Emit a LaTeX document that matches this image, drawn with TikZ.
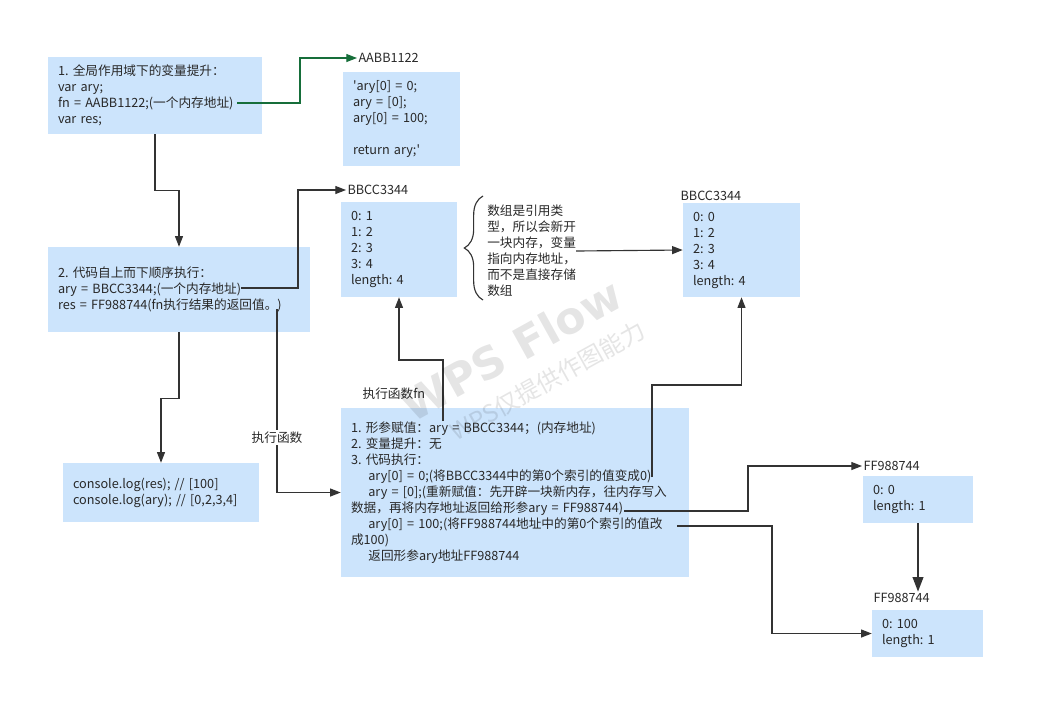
\documentclass[tikz,border=0pt]{standalone}
\usepackage{fontspec}
\setmainfont{Noto Sans CJK SC}
\newfontfamily\wmfont{DejaVu Sans}
\usetikzlibrary{arrows.meta, decorations.pathreplacing, calc}
\definecolor{boxblue}{RGB}{204,228,252}
\definecolor{linegray}{RGB}{51,51,51}
\definecolor{flowgreen}{RGB}{22,110,58}
\definecolor{textgray}{RGB}{40,40,40}
\frenchspacing

\begin{document}
\begin{tikzpicture}[x=0.75pt, y=-0.75pt,
    every node/.style={text=textgray, font=\fontsize{9.5}{12}\selectfont},
    box/.style={fill=boxblue, inner xsep=7.5pt, inner ysep=0pt, align=left},
    addr/.style={anchor=west, inner sep=1pt},
    link/.style={draw=linegray, line width=0.85pt, -{Triangle[length=8pt,width=6pt]}}]

      \useasboundingbox (0,0) rectangle (1045,719);

      % Memory boxes
      \node[box, text width=145.5pt, minimum height=57.75pt] (hoist) at (155,95.5)
        {1. 全局作用域下的变量提升：\\ var ary;\\ fn = AABB1122;(一个内存地址)\\ var res;};
      \node[box, text width=72.75pt, minimum height=70.5pt] (aabbbox) at (401.5,119)
        {\textquotesingle ary[0] = 0;\\ ary = [0];\\ ary[0] = 100;\\[12pt] return ary;\textquotesingle};
      \node[box, text width=181.5pt, minimum height=63.75pt] (exec) at (179,289.5)
        {2. 代码自上而下顺序执行：\\ ary = BBCC3344;(一个内存地址)\\ res = FF988744(fn执行结果的返回值。)};
      \node[box, text width=72pt, minimum height=71.25pt] (bbccbox) at (399,249.5)
        {0: 1\\ 1: 2\\ 2: 3\\ 3: 4\\ length: 4};
      \node[box, text width=72.75pt, minimum height=70.5pt] (newbox) at (741.5,250)
        {0: 0\\ 1: 2\\ 2: 3\\ 3: 4\\ length: 4};
      \node[box, text width=132pt, minimum height=44.25pt] (console) at (161,492.5)
        {console.log(res); // [100]\\ console.log(ary); // [0,2,3,4]};
      \node[box, text width=246pt, minimum height=126.75pt] (fnbox) at (515,492.5)
        {1. 形参赋值：ary = BBCC3344；(内存地址)\\
         2. 变量提升：无\\
         3. 代码执行：\\
         \hspace*{13pt}ary[0] = 0;(将BBCC3344中的第0个索引的值变成0)\\
         \hspace*{13pt}ary = [0];(重新赋值：先开辟一块新内存，往内存写入\\
         数据，再将内存地址返回给形参ary = FF988744)\\
         \hspace*{13pt}ary[0] = 100;(将FF988744地址中的第0个索引的值改\\
         成100)\\
         \hspace*{13pt}返回形参ary地址FF988744};
      \node[box, text width=67.5pt, minimum height=35.25pt] (ffbox1) at (918,499.5)
        {0: 0\\ length: 1};
      \node[box, text width=68.25pt, minimum height=35.25pt] (ffbox2) at (927.5,633.5)
        {0: 100\\ length: 1};

      % Address labels
      \node[addr] (aabb) at (357,58) {AABB1122};
      \node[addr] (bbccL) at (346,190) {BBCC3344};
      \node[addr] (bbccR) at (679,196) {BBCC3344};
      \node[addr] (ff1lab) at (862,466) {FF988744};
      \node[addr] (ff2lab) at (872,598) {FF988744};
      \node[addr] (fnlab) at (361,394) {执行函数fn};

      % Brace and note
      \draw[linegray, line width=0.85pt, decorate, decoration={brace, amplitude=14pt}] (483,300) -- (483,196);
      \node[anchor=west, align=left, inner sep=0pt] (note) at (487,251)
        {数组是引用类\\ 型，所以会新开\\ 一块内存，变量\\ 指向内存地址，\\ 而不是直接存储\\ 数组};

      % Ends of the code lines
      \coordinate (fnend) at (237,103);
      \coordinate (aryend) at (241,288);
      \coordinate (resend) at (277,309);
      \coordinate (argary) at (443,421);
      \coordinate (zeroend) at (652,477);
      \coordinate (newend) at (624,511);
      \coordinate (hundend) at (677,526);

      % Connectors
      \draw[link, draw=flowgreen] (fnend) -- ++(63,0) |- (aabb.west);
      \draw[link] (hoist.south) -- ++(0,56) -| (exec.north);
      \draw[link] (aryend) -- ++(57,0) |- (bbccL.west);
      \draw[link] (exec.south) -- ++(0,66) -| (console.north);
      \draw[link] (resend) |- node[pos=0.35, fill=white, inner sep=1pt] {执行函数} (fnbox.west);
      \draw[link] (argary) -- ++(0,-61) -| (bbccbox.south);
      \draw[link] (note.east) -- (newbox.west);
      \draw[link] (zeroend) -- ++(0,-92) -| (newbox.south);
      \draw[link] (newend) -- ++(124,0) |- (ff1lab.west);
      \draw[link] (hundend) -- ++(95,0) |- (ffbox2.west);
      \draw[link, line width=1.4pt, -{Triangle[length=11pt,width=8pt]}] (ffbox1.south) -- (ffbox1.south |- ff2lab.north);

      % Watermark
      \node[rotate=29, text=black, opacity=0.1, font=\wmfont\bfseries\fontsize{33}{33}\selectfont] (wm) at (511,350) {WPS Flow};
      \node[rotate=29, text=black, opacity=0.1, font=\fontsize{18}{18}\selectfont] (wmsub) at (548,381) {WPS仅提供作图能力};
\end{tikzpicture}
\end{document}
